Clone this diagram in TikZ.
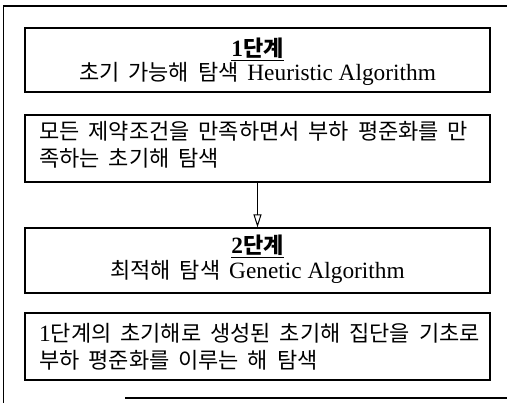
\documentclass[tikz,border=0pt]{standalone}
\usepackage{fontspec}
\setmainfont[Scale=1.06]{Liberation Serif}
\newfontfamily\kr[WordSpace=1.8]{Noto Sans CJK KR}
\usetikzlibrary{arrows.meta}
\newcommand{\ttlul}[1]{\underline{\smash{#1}\vrule width 0pt depth 2pt}}
\begin{document}
\begin{tikzpicture}[x=1pt,y=-1pt,
  stagebox/.style={draw, line width=1.3pt, minimum width=465pt, inner sep=0pt},
  txt/.style={inner sep=0pt, font=\fontsize{22}{27}\selectfont},
  frame/.style={line width=1.3pt}]
\useasboundingbox (0,0) rectangle (507,403);
% outer frame
\coordinate (fa) at (3.5,403);
\coordinate (fb) at (3.5,6);
\coordinate (fc) at (507,6);
\coordinate (fd) at (125,398);
\coordinate (fe) at (507,398);
\draw[frame] (fa) -- (fb) -- (fc);
\draw[frame] (fd) -- (fe);
% boxes
\node[stagebox, minimum height=64pt] (b1) at (257.5,60) {};
\node[stagebox, minimum height=67pt] (b2) at (257.5,148.5) {};
\node[stagebox, minimum height=65pt] (b3) at (257.5,260.5) {};
\node[stagebox, minimum height=67pt] (b4) at (257.5,346.5) {};
% texts
\node[txt, anchor=base] (t1a) at (257.5,57) {\ttlul{\textbf{1}{\kr\bfseries 단계}}};
\node[txt, anchor=base] (t1b) at (257.5,81) {{\kr 초기 가능해 탐색 }Heuristic Algorithm};
\node[txt, anchor=west, align=left] (t2) at (39,144.5) {{\kr 모든 제약조건을 만족하면서 부하 평준화를 만}\\{\kr 족하는 초기해 탐색}};
\node[txt, anchor=base] (t3a) at (257.5,254) {\ttlul{\textbf{2}{\kr\bfseries 단계}}};
\node[txt, anchor=base] (t3b) at (257.5,279) {{\kr 최적해 탐색 }Genetic Algorithm};
\node[txt, anchor=west, align=left] (t4) at (39,346.5) {1{\kr 단계의 초기해로 생성된 초기해 집단을 기초로}\\{\kr 부하 평준화를 이루는 해 탐색}};
% arrow
\draw[line width=1pt, -{Triangle[open, length=13pt, width=8pt]}] (b2.south) -- (b3.north);
\end{tikzpicture}
\end{document}
